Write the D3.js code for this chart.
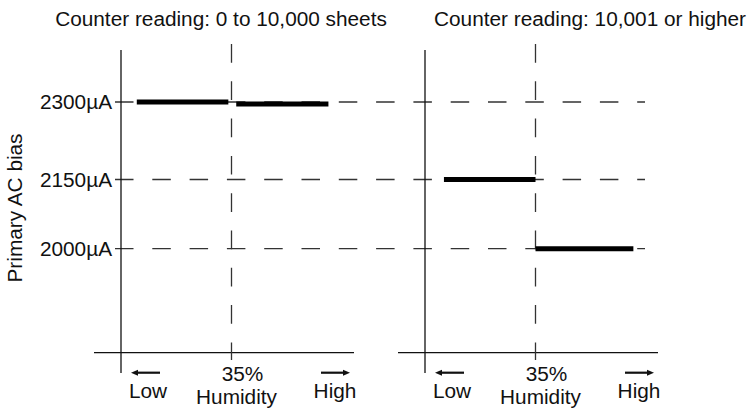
<!DOCTYPE html>
<html>
<head>
<meta charset="utf-8">
<script src="https://cdn.jsdelivr.net/npm/d3@7"></script>
<style>
  body { margin: 0; background: #fff; }
  svg { display: block; }
  text { font-family: "Liberation Sans", Arial, sans-serif; fill: #111; }
</style>
</head>
<body>
<svg id="chart" width="756" height="409"></svg>
<script>
// chart data
var panelTitles = ["Counter reading: 0 to 10,000 sheets", "Counter reading: 10,001 or higher"];
var biasTicks = [2300, 2150, 2000];
var biasLabels = ["2300µA", "2150µA", "2000µA"];
var humidityMark = 35;
var humidityLabels = ["Low", "35%", "Humidity", "High"];
// bias segments, one list per panel (humidity from / to, bias in µA)
var segFrom = [[5, 36.5], [6, 35]];
var segTo = [[34, 65.7], [35, 66]];
var segBias = [[2300, 2296], [2150, 2000]];

var fontSize = 20, stretchX = 1.04;
var svg = d3.select('#chart');
var panelX = [121, 425];

var y = d3.scaleLinear()
    .domain([2000, 2150, 2300])
    .range([248.7, 179.5, 102]);
var x = d3.scaleLinear()
    .domain([0, humidityMark])
    .range([0, 110.5]);

function stretchedText(g, tx, ty, str, anchor, rot) {
    var t = g.append('g')
	.attr('transform', 'translate(' + tx + ',' + ty + ')' + (rot ? 'rotate(' + rot + ')' : '') + 'scale(' + stretchX + ',1)')
	.append('text')
	.attr('text-anchor', anchor)
	.style('font-size', fontSize + 'px')
	.text(str);
    return t;
}

// horizontal dashed guides across both panels
svg.selectAll('line.guide')
    .data(biasTicks)
    .enter()
    .append('line')
    .classed('guide', true)
    .attr('x1', 115).attr('x2', 645)
    .attr('y1', function(d){ return y(d); })
    .attr('y2', function(d){ return y(d); })
    .attr('stroke', '#333')
    .attr('stroke-width', 1.3)
    .attr('stroke-dasharray', '18.5,18.8');

// tick labels
biasTicks.forEach(function(d, i){
    stretchedText(svg, 112, y(d) + 7, biasLabels[i], 'end');
});

// y title
stretchedText(svg, 22, 208, 'Primary AC bias', 'middle', -90);

var panels = svg.selectAll('g.panel')
    .data(panelTitles)
    .enter()
    .append('g')
    .classed('panel', true)
    .attr('transform', function(d, i){ return 'translate(' + panelX[i] + ',0)'; });

panels.each(function(d, i){
    var p = d3.select(this);
    var mx = x(humidityMark);

    stretchedText(p, 100 + (i ? 65 : 0), 26, d, 'middle');

    // axes
    p.append('line')
	.attr('x1', 0).attr('x2', 0).attr('y1', 50).attr('y2', 373)
	.attr('stroke', '#111').attr('stroke-width', 1.3);
    p.append('line')
	.attr('x1', -27).attr('x2', 233).attr('y1', 352.7).attr('y2', 352.7)
	.attr('stroke', '#111').attr('stroke-width', 1.3);

    // 35% line
    p.append('line')
	.attr('x1', mx).attr('x2', mx).attr('y1', 44).attr('y2', 360)
	.attr('stroke', '#333').attr('stroke-width', 1.3)
	.attr('stroke-dasharray', '18.7,18.6');

    // bias segments
    p.selectAll('line.seg')
	.data(segBias[i])
	.enter()
	.append('line')
	.classed('seg', true)
	.attr('x1', function(v, j){ return x(segFrom[i][j]); })
	.attr('x2', function(v, j){ return x(segTo[i][j]); })
	.attr('y1', function(v){ return y(v); })
	.attr('y2', function(v){ return y(v); })
	.attr('stroke', '#000')
	.attr('stroke-width', 5);

    // arrows
    var ay = 372.7;
    p.append('line').attr('x1', 39).attr('x2', 16).attr('y1', ay).attr('y2', ay)
	.attr('stroke', '#111').attr('stroke-width', 2.2);
    p.append('path').attr('d', 'M10,' + ay + 'L17,' + (ay - 3) + 'L17,' + (ay + 3) + 'Z').attr('fill', '#111');
    p.append('line').attr('x1', 200).attr('x2', 223).attr('y1', ay).attr('y2', ay)
	.attr('stroke', '#111').attr('stroke-width', 2.2);
    p.append('path').attr('d', 'M229,' + ay + 'L222,' + (ay - 3) + 'L222,' + (ay + 3) + 'Z').attr('fill', '#111');

    stretchedText(p, 27, 398, humidityLabels[0], 'middle');
    stretchedText(p, mx + 11, 381, humidityLabels[1], 'middle');
    stretchedText(p, mx + 5, 404, humidityLabels[2], 'middle');
    stretchedText(p, 214, 398, humidityLabels[3], 'middle');
});
</script>
</body>
</html>
